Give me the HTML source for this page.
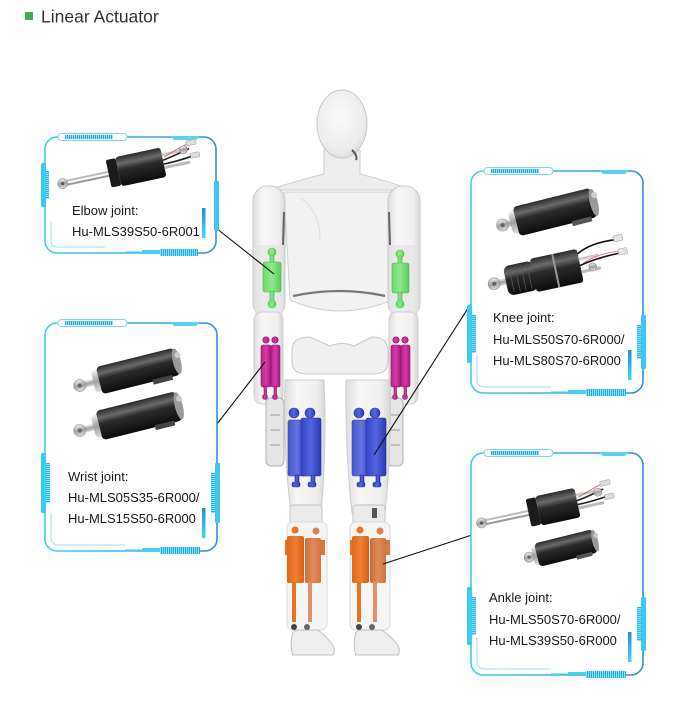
<!DOCTYPE html>
<html><head><meta charset="utf-8">
<style>
html,body{margin:0;padding:0;background:#fff;}
body{width:674px;height:706px;overflow:hidden;position:relative;font-family:"Liberation Sans",sans-serif;}
svg{position:absolute;left:0;top:0;}
</style></head><body>
<svg width="674" height="706" viewBox="0 0 674 706" xmlns="http://www.w3.org/2000/svg">
<defs>
 <linearGradient id="fr" x1="0" y1="0" x2="1" y2="0"><stop offset="0" stop-color="#3fd0ee"/><stop offset="1" stop-color="#2d8fe2"/></linearGradient>
 <linearGradient id="cyv" x1="0" y1="0" x2="0" y2="1"><stop offset="0" stop-color="#1e8fe0"/><stop offset="1" stop-color="#49d6f2"/></linearGradient>
 <pattern id="hatch" width="2" height="8" patternUnits="userSpaceOnUse"><rect width="2" height="8" fill="#8fe4f8"/><rect width="1" height="8" fill="#1ea8e8"/></pattern>
 <pattern id="hatchh" width="8" height="2" patternUnits="userSpaceOnUse"><rect width="8" height="2" fill="#8fe4f8"/><rect width="8" height="1" fill="#26b4ea"/></pattern>
 <linearGradient id="blk" x1="0" y1="0" x2="0" y2="1"><stop offset="0" stop-color="#2a2a2a"/><stop offset=".25" stop-color="#6a6a6a"/><stop offset=".45" stop-color="#2b2b2b"/><stop offset="1" stop-color="#0c0c0c"/></linearGradient>
 <linearGradient id="slv" x1="0" y1="0" x2="0" y2="1"><stop offset="0" stop-color="#f4f4f4"/><stop offset=".5" stop-color="#a0a0a0"/><stop offset="1" stop-color="#e0e0e0"/></linearGradient>
 <radialGradient id="skin" cx=".45" cy=".4" r=".7"><stop offset="0" stop-color="#fafafa"/><stop offset=".7" stop-color="#ececec"/><stop offset="1" stop-color="#d2d2d2"/></radialGradient>
 <linearGradient id="limb" x1="0" y1="0" x2="1" y2="0"><stop offset="0" stop-color="#dedede"/><stop offset=".3" stop-color="#f7f7f7"/><stop offset=".8" stop-color="#efefef"/><stop offset="1" stop-color="#d6d6d6"/></linearGradient>
 <linearGradient id="grn" x1="0" y1="0" x2="1" y2="0"><stop offset="0" stop-color="#6fd86f"/><stop offset=".5" stop-color="#8ee88e"/><stop offset="1" stop-color="#5cc85c"/></linearGradient>
 <linearGradient id="mag" x1="0" y1="0" x2="1" y2="0"><stop offset="0" stop-color="#b8248a"/><stop offset=".5" stop-color="#d83aa8"/><stop offset="1" stop-color="#a01c7a"/></linearGradient>
 <linearGradient id="blu" x1="0" y1="0" x2="1" y2="0"><stop offset="0" stop-color="#3446c8"/><stop offset=".5" stop-color="#5566e0"/><stop offset="1" stop-color="#2a38b0"/></linearGradient>
 <linearGradient id="org" x1="0" y1="0" x2="1" y2="0"><stop offset="0" stop-color="#e0661a"/><stop offset=".5" stop-color="#f08030"/><stop offset="1" stop-color="#d85f15"/></linearGradient>
 <linearGradient id="org2" x1="0" y1="0" x2="1" y2="0"><stop offset="0" stop-color="#c8703e"/><stop offset=".5" stop-color="#e08a5a"/><stop offset="1" stop-color="#d0743e"/></linearGradient>
</defs>

<!-- Header -->
<rect x="25" y="12" width="8" height="8" fill="#3cb44a"/>
<text x="41" y="22.5" font-size="17.5" fill="#333" font-family="Liberation Sans, sans-serif">Linear Actuator</text>

<!-- ================= ROBOT ================= -->
<g stroke-linejoin="round">
 <path d="M324,150 L324,174 Q300,180 268,190 L412,190 Q384,180 360,174 L360,150 Z" fill="#ededed" stroke="#cdcdcd"/>
 <ellipse cx="342" cy="124" rx="25" ry="34" fill="url(#skin)" stroke="#c8c8c8"/>
 <path d="M352,150 Q358,156 356,160" stroke="#555" stroke-width="2" fill="none"/>
 <path d="M284,192 L397,192 L392,300 Q340,322 290,300 Z" fill="#f2f2f2" stroke="#d0d0d0"/>
 <path d="M293,296 Q340,286 385,296" stroke="#777" stroke-width="2.2" fill="none"/>
 <path d="M300,198 Q320,210 320,240" stroke="#dddddd" fill="none"/>
 <rect x="253" y="186" width="32" height="132" rx="15" fill="url(#limb)" stroke="#c8c8c8"/>
 <rect x="388" y="186" width="32" height="132" rx="15" fill="url(#limb)" stroke="#c8c8c8"/>
 <rect x="255" y="245" width="28" height="72" fill="#e4e4e4" opacity=".7"/>
 <rect x="390" y="245" width="28" height="72" fill="#e4e4e4" opacity=".7"/>
 <path d="M284,212 L283,245" stroke="#666" stroke-width="2"/>
 <path d="M389,212 L390,245" stroke="#666" stroke-width="2"/>
 <rect x="254" y="312" width="29" height="92" rx="8" fill="url(#limb)" stroke="#d0d0d0"/>
 <rect x="389" y="312" width="29" height="92" rx="8" fill="url(#limb)" stroke="#d0d0d0"/>
 <rect x="266" y="398" width="18" height="68" rx="5" fill="#e6e6e6" stroke="#b0b0b0"/>
 <rect x="387" y="398" width="16" height="68" rx="5" fill="#e6e6e6" stroke="#b0b0b0"/>
 <path d="M270,415 h10 M270,430 h10 M270,445 h10" stroke="#999"/>
 <path d="M391,415 h9 M391,430 h9 M391,445 h9" stroke="#999"/>
 <path d="M292,350 Q292,337 310,337 L330,346 Q342,341 354,346 L372,337 Q388,337 388,352 L388,362 Q388,374 372,374 L308,374 Q292,374 292,362 Z" fill="#f0f0f0" stroke="#c8c8c8"/>
 <path d="M285,380 L324,380 Q327,450 321,513 L291,513 Q283,450 285,380 Z" fill="url(#limb)" stroke="#cccccc"/>
 <path d="M346,380 L390,380 Q392,450 385,513 L352,513 Q345,450 346,380 Z" fill="url(#limb)" stroke="#cccccc"/>
 <rect x="290" y="505" width="32" height="22" rx="3" fill="#ebebeb" stroke="#c2c2c2"/>
 <rect x="353" y="505" width="32" height="22" rx="3" fill="#ebebeb" stroke="#c2c2c2"/>
 <rect x="372" y="508" width="5" height="10" fill="#555"/>
 <rect x="287" y="522" width="40" height="108" rx="6" fill="#f5f5f5" stroke="#dadada"/>
 <rect x="350" y="522" width="40" height="108" rx="6" fill="#f5f5f5" stroke="#dadada"/>
 <path d="M292,636 Q292,630 300,630 L318,630 Q326,636 332,644 Q336,650 333,655 L293,655 Q290,648 292,636 Z" fill="#eeeeee" stroke="#c0c0c0"/>
 <path d="M355,636 Q355,630 363,630 L382,630 Q391,636 397,644 Q401,650 398,655 L356,655 Q353,648 355,636 Z" fill="#eeeeee" stroke="#c0c0c0"/>
 <circle cx="294" cy="627" r="3" fill="#444"/><circle cx="307" cy="627" r="3" fill="#666"/>
 <circle cx="359" cy="627" r="3" fill="#444"/><circle cx="372" cy="627" r="3" fill="#666"/>
</g>

<!-- Green actuators -->
<g fill="url(#grn)" stroke="#4fb54f" stroke-width=".6">
 <circle cx="272" cy="252" r="4"/><rect x="270" y="255" width="4" height="8"/>
 <rect x="263" y="262" width="18" height="30" rx="2"/>
 <rect x="270" y="291" width="4" height="10"/><circle cx="272" cy="304" r="4"/>
 <circle cx="400" cy="254" r="4"/><rect x="398" y="257" width="4" height="7"/>
 <rect x="392" y="263" width="17" height="30" rx="2"/>
 <rect x="398" y="292" width="4" height="9"/><circle cx="400" cy="304" r="4"/>
</g>
<!-- Magenta actuators -->
<g fill="url(#mag)" stroke="#8a1466" stroke-width=".6">
 <circle cx="266" cy="340" r="3.2"/><circle cx="275" cy="340" r="3.2"/>
 <rect x="261" y="345" width="10" height="42" rx="2"/><rect x="271" y="345" width="9" height="42" rx="2"/>
 <rect x="264" y="386" width="2.5" height="10"/><rect x="274" y="386" width="2.5" height="10"/>
 <circle cx="265" cy="397" r="2.5"/><circle cx="275" cy="397" r="2.5"/>
 <circle cx="396" cy="340" r="3.2"/><circle cx="405" cy="340" r="3.2"/>
 <rect x="391" y="345" width="10" height="42" rx="2"/><rect x="401" y="345" width="9" height="42" rx="2"/>
 <rect x="394" y="386" width="2.5" height="10"/><rect x="404" y="386" width="2.5" height="10"/>
 <circle cx="395" cy="397" r="2.5"/><circle cx="405" cy="397" r="2.5"/>
</g>
<!-- Blue actuators -->
<g fill="url(#blu)" stroke="#22309a" stroke-width=".6">
 <circle cx="294" cy="413" r="5"/><circle cx="310" cy="413" r="5"/>
 <rect x="288" y="420" width="18" height="56" rx="2" opacity=".9"/>
 <rect x="301" y="418" width="20" height="58" rx="2"/>
 <rect x="295" y="475" width="4" height="8"/><rect x="311" y="475" width="4" height="8"/>
 <rect x="292" y="482" width="8" height="5" rx="2"/><rect x="308" y="482" width="8" height="5" rx="2"/>
 <circle cx="359" cy="413" r="5"/><circle cx="375" cy="413" r="5"/>
 <rect x="352" y="420" width="18" height="56" rx="2" opacity=".9"/>
 <rect x="366" y="418" width="20" height="58" rx="2"/>
 <rect x="360" y="475" width="4" height="8"/><rect x="376" y="475" width="4" height="8"/>
 <rect x="357" y="482" width="8" height="5" rx="2"/><rect x="373" y="482" width="8" height="5" rx="2"/>
</g>
<!-- Orange actuators -->
<g>
 <circle cx="295" cy="530" r="3.5" fill="#e8741f"/><circle cx="316" cy="531" r="3.5" fill="#d98050"/>
 <rect x="285" y="540" width="5" height="15" fill="#e8741f"/><rect x="319" y="540" width="6" height="15" fill="#d67a45"/>
 <rect x="287" y="536" width="17" height="47" rx="2" fill="url(#org)"/>
 <rect x="305" y="538" width="16" height="45" rx="2" fill="url(#org2)"/>
 <rect x="292" y="582" width="4" height="40" fill="#e8741f"/><rect x="308" y="582" width="4" height="40" fill="#e0916a"/>
 <circle cx="360" cy="530" r="3.5" fill="#e8741f"/><circle cx="380" cy="531" r="3.5" fill="#d98050"/>
 <rect x="350" y="540" width="5" height="15" fill="#e8741f"/><rect x="384" y="540" width="6" height="15" fill="#d67a45"/>
 <rect x="352" y="536" width="17" height="47" rx="2" fill="url(#org)"/>
 <rect x="370" y="538" width="16" height="45" rx="2" fill="url(#org2)"/>
 <rect x="357" y="582" width="4" height="40" fill="#e8741f"/><rect x="373" y="582" width="4" height="40" fill="#e0916a"/>
</g>

<!-- Connector lines -->
<g stroke="#111" stroke-width="1.1">
 <line x1="216" y1="228" x2="274" y2="274"/>
 <line x1="217" y1="424" x2="265" y2="362"/>
 <line x1="472" y1="302" x2="374" y2="455"/>
 <line x1="472" y1="535" x2="383" y2="564"/>
</g>

<!-- ================= BOXES ================= -->
<g transform="translate(45,137)">
 <rect x="0" y="0" width="171" height="116" rx="12" fill="#fff" stroke="url(#fr)" stroke-width="1.6"/>
 <path d="M6,84 V104 Q6,110 12,110 H60" stroke="#9fdcf5" fill="none"/>
 <rect x="13" y="-3.5" width="69" height="7" rx="3.5" fill="#fff" stroke="#7fd3f0"/>
 <rect x="20" y="-2" width="48" height="4" fill="url(#hatch)"/>
 <path d="M125,-1 h30 l-4,4 h-22 z" fill="#5cd2f2"/>
 <rect x="-4" y="26" width="5" height="44" rx="1" fill="#3ccbf0"/>
 <rect x="1" y="34" width="3" height="28" fill="url(#hatchh)"/>
 <rect x="169" y="44" width="5" height="50" rx="1" fill="#3cc6f0"/>
 <rect x="80" y="114.5" width="16" height="2" fill="#46c6ef"/>
 <rect x="97" y="113" width="18" height="4" fill="#4ccdf2"/>
 <rect x="115" y="112" width="38" height="7" fill="url(#hatch)"/>
 <rect x="157" y="71" width="3.5" height="30" fill="url(#cyv)"/>
</g>
<text x="72" y="215" font-size="13" fill="#1a1a1a">Elbow joint:</text>
<text x="72" y="236" font-size="13" fill="#1a1a1a">Hu-MLS39S50-6R001</text>

<g transform="translate(45,323)">
 <rect x="0" y="0" width="172" height="228" rx="12" fill="#fff" stroke="url(#fr)" stroke-width="1.6"/>
 <path d="M6,190 V214 Q6,222 14,222 H80" stroke="#9fdcf5" fill="none"/>
 <rect x="13" y="-3.5" width="69" height="7" rx="3.5" fill="#fff" stroke="#7fd3f0"/>
 <rect x="20" y="-2" width="48" height="4" fill="url(#hatch)"/>
 <path d="M125,-1 h30 l-4,4 h-22 z" fill="#5cd2f2"/>
 <rect x="-4" y="130" width="5" height="60" rx="1" fill="#3ccbf0"/>
 <rect x="1" y="140" width="4" height="40" fill="url(#hatchh)"/>
 <rect x="170" y="140" width="5" height="60" rx="1" fill="#3cc6f0"/>
 <rect x="166" y="150" width="4" height="40" fill="url(#hatchh)"/>
 <rect x="80" y="226.5" width="16" height="2" fill="#46c6ef"/>
 <rect x="97" y="225" width="18" height="4" fill="#4ccdf2"/>
 <rect x="115" y="224" width="40" height="7" fill="url(#hatch)"/>
 <rect x="157" y="185" width="3.5" height="30" fill="url(#cyv)"/>
</g>
<text x="68" y="481" font-size="13" fill="#1a1a1a">Wrist joint:</text>
<text x="68" y="502" font-size="13" fill="#1a1a1a">Hu-MLS05S35-6R000/</text>
<text x="68" y="523" font-size="13" fill="#1a1a1a">Hu-MLS15S50-6R000</text>

<g transform="translate(471,171)">
 <rect x="0" y="0" width="172" height="222" rx="12" fill="#fff" stroke="url(#fr)" stroke-width="1.6"/>
 <path d="M6,184 V208 Q6,216 14,216 H80" stroke="#9fdcf5" fill="none"/>
 <rect x="13" y="-3.5" width="69" height="7" rx="3.5" fill="#fff" stroke="#7fd3f0"/>
 <rect x="20" y="-2" width="48" height="4" fill="url(#hatch)"/>
 <path d="M128,-1 h30 l-4,4 h-22 z" fill="#5cd2f2"/>
 <rect x="-4" y="134" width="5" height="58" rx="1" fill="#3ccbf0"/>
 <rect x="1" y="144" width="4" height="38" fill="url(#hatchh)"/>
 <rect x="170" y="144" width="5" height="54" rx="1" fill="#3cc6f0"/>
 <rect x="166" y="154" width="4" height="34" fill="url(#hatchh)"/>
 <rect x="80" y="220.5" width="16" height="2" fill="#46c6ef"/>
 <rect x="97" y="219" width="18" height="4" fill="#4ccdf2"/>
 <rect x="115" y="218" width="40" height="7" fill="url(#hatch)"/>
 <rect x="157" y="179" width="3.5" height="30" fill="url(#cyv)"/>
</g>
<text x="493" y="322" font-size="13" fill="#1a1a1a">Knee joint:</text>
<text x="493" y="344" font-size="13" fill="#1a1a1a">Hu-MLS50S70-6R000/</text>
<text x="493" y="365" font-size="13" fill="#1a1a1a">Hu-MLS80S70-6R000</text>

<g transform="translate(471,453)">
 <rect x="0" y="0" width="172" height="222" rx="12" fill="#fff" stroke="url(#fr)" stroke-width="1.6"/>
 <path d="M6,184 V208 Q6,216 14,216 H80" stroke="#9fdcf5" fill="none"/>
 <rect x="13" y="-3.5" width="69" height="7" rx="3.5" fill="#fff" stroke="#7fd3f0"/>
 <rect x="20" y="-2" width="48" height="4" fill="url(#hatch)"/>
 <path d="M128,-1 h30 l-4,4 h-22 z" fill="#5cd2f2"/>
 <rect x="-4" y="134" width="5" height="58" rx="1" fill="#3ccbf0"/>
 <rect x="1" y="144" width="4" height="38" fill="url(#hatchh)"/>
 <rect x="170" y="144" width="5" height="54" rx="1" fill="#3cc6f0"/>
 <rect x="166" y="154" width="4" height="34" fill="url(#hatchh)"/>
 <rect x="80" y="220.5" width="16" height="2" fill="#46c6ef"/>
 <rect x="97" y="219" width="18" height="4" fill="#4ccdf2"/>
 <rect x="115" y="218" width="40" height="7" fill="url(#hatch)"/>
 <rect x="157" y="179" width="3.5" height="30" fill="url(#cyv)"/>
</g>
<text x="489" y="602" font-size="13" fill="#1a1a1a">Ankle joint:</text>
<text x="489" y="624" font-size="13" fill="#1a1a1a">Hu-MLS50S70-6R000/</text>
<text x="489" y="645" font-size="13" fill="#1a1a1a">Hu-MLS39S50-6R000</text>

<!-- ================= ACTUATOR PRODUCT DRAWINGS ================= -->
<g transform="translate(136,168) rotate(-12)">
 <rect x="-73" y="-3" width="48" height="2" fill="#bbb"/>
 <rect x="-73" y="1" width="48" height="2" fill="#999"/>
 <circle cx="-75" cy="0" r="5" fill="url(#slv)" stroke="#888" stroke-width=".6"/>
 <circle cx="-75" cy="0" r="1.6" fill="#555"/>
 <rect x="-28" y="-14" width="10" height="28" rx="2" fill="#1a1a1a"/>
 <rect x="-18" y="-15" width="46" height="30" rx="3" fill="url(#blk)"/>
 <rect x="28" y="-9" width="26" height="3" fill="#ccc"/>
 <rect x="28" y="4" width="26" height="3" fill="#bbb"/>
 <path d="M28,-2 Q40,-4 56,-8 M28,2 Q42,2 58,0" stroke="#222" stroke-width="1.6" fill="none"/>
 <path d="M30,-5 Q44,-10 58,-14" stroke="#c55" stroke-width=".8" fill="none"/>
 <circle cx="50" cy="-8" r="4" fill="url(#slv)" stroke="#888" stroke-width=".6"/>
 <rect x="54" y="-16" width="10" height="5" rx="1" fill="#ddd" stroke="#999" stroke-width=".5"/>
 <rect x="56" y="-3" width="9" height="5" rx="1" fill="#ddd" stroke="#999" stroke-width=".5"/>
</g>

<g transform="translate(138,371) rotate(-14)">
 <rect x="-58" y="-3.5" width="18" height="7" fill="url(#slv)"/>
 <rect x="-46" y="-11" width="8" height="22" rx="3" fill="url(#slv)"/>
 <rect x="-40" y="-14" width="80" height="28" rx="4" fill="url(#blk)"/>
 <ellipse cx="40" cy="0" rx="4" ry="13" fill="#9a9a9a"/>
 <circle cx="42" cy="-6" r="3" fill="#ccc"/>
 <rect x="12" y="12" width="20" height="5" fill="#444"/>
 <circle cx="-60" cy="0" r="6" fill="url(#slv)" stroke="#888" stroke-width=".6"/>
 <circle cx="-60" cy="0" r="2" fill="#666"/>
</g>
<g transform="translate(138,416) rotate(-14)">
 <rect x="-58" y="-3.5" width="18" height="7" fill="url(#slv)"/>
 <rect x="-46" y="-12" width="10" height="24" rx="5" fill="url(#slv)"/>
 <rect x="-40" y="-15" width="82" height="30" rx="4" fill="url(#blk)"/>
 <ellipse cx="42" cy="0" rx="4" ry="14" fill="#9a9a9a"/>
 <circle cx="44" cy="-7" r="3" fill="#ccc"/>
 <rect x="14" y="13" width="20" height="5" fill="#444"/>
 <circle cx="-60" cy="0" r="6" fill="url(#slv)" stroke="#888" stroke-width=".6"/>
 <circle cx="-60" cy="0" r="2" fill="#666"/>
</g>

<g transform="translate(555,212) rotate(-14)">
 <rect x="-52" y="-3.5" width="14" height="7" fill="url(#slv)"/>
 <rect x="-46" y="-12" width="10" height="24" rx="5" fill="url(#slv)"/>
 <rect x="-40" y="-15" width="80" height="30" rx="4" fill="url(#blk)"/>
 <ellipse cx="40" cy="0" rx="4" ry="14" fill="#9a9a9a"/>
 <circle cx="42" cy="-7" r="3" fill="#ccc"/>
 <rect x="14" y="13" width="20" height="5" fill="#555"/>
 <circle cx="-54" cy="0" r="6" fill="url(#slv)" stroke="#888" stroke-width=".6"/>
 <circle cx="-54" cy="0" r="2" fill="#666"/>
</g>
<g transform="translate(545,273) rotate(-12)">
 <rect x="-50" y="-3.5" width="14" height="7" fill="url(#slv)"/>
 <rect x="-40" y="-15" width="30" height="30" rx="6" fill="url(#blk)"/>
 <rect x="-12" y="-17" width="48" height="34" rx="3" fill="url(#blk)"/>
 <path d="M-34,-12 v24 M-28,-13 v26 M-22,-13 v26 M-16,-13 v26" stroke="#555" stroke-width=".8"/>
 <rect x="10" y="-17" width="2" height="34" fill="#999"/>
 <rect x="36" y="-8" width="20" height="3" fill="#ccc"/>
 <rect x="36" y="5" width="20" height="3" fill="#bbb"/>
 <path d="M36,-12 Q50,-20 76,-18 M36,0 Q52,-4 78,-4" stroke="#111" stroke-width="1.6" fill="none"/>
 <path d="M40,-2 Q56,-8 78,-6" stroke="#d66" stroke-width=".8" fill="none"/>
 <circle cx="48" cy="4" r="4" fill="url(#slv)" stroke="#888" stroke-width=".6"/>
 <rect x="74" y="-22" width="9" height="6" rx="1" fill="#e6e6e6" stroke="#999" stroke-width=".5"/>
 <rect x="76" y="-8" width="9" height="6" rx="1" fill="#e6e6e6" stroke="#999" stroke-width=".5"/>
 <circle cx="-52" cy="0" r="6" fill="url(#slv)" stroke="#888" stroke-width=".6"/>
 <circle cx="-52" cy="0" r="2" fill="#666"/>
</g>

<g transform="translate(552,508) rotate(-12)">
 <rect x="-70" y="-3" width="48" height="2" fill="#bbb"/>
 <rect x="-70" y="1" width="48" height="2" fill="#999"/>
 <circle cx="-72" cy="0" r="5" fill="url(#slv)" stroke="#888" stroke-width=".6"/>
 <circle cx="-72" cy="0" r="1.6" fill="#555"/>
 <rect x="-24" y="-14" width="10" height="28" rx="2" fill="#1a1a1a"/>
 <rect x="-14" y="-15" width="40" height="30" rx="3" fill="url(#blk)"/>
 <rect x="26" y="-9" width="26" height="3" fill="#ccc"/>
 <rect x="26" y="4" width="26" height="3" fill="#bbb"/>
 <path d="M26,-2 Q40,-4 54,-8 M26,2 Q40,2 56,0" stroke="#222" stroke-width="1.6" fill="none"/>
 <path d="M28,-5 Q42,-10 56,-14" stroke="#c55" stroke-width=".8" fill="none"/>
 <circle cx="48" cy="-6" r="4" fill="url(#slv)" stroke="#888" stroke-width=".6"/>
 <rect x="52" y="-16" width="10" height="5" rx="1" fill="#ddd" stroke="#999" stroke-width=".5"/>
 <rect x="54" y="-2" width="9" height="5" rx="1" fill="#ddd" stroke="#999" stroke-width=".5"/>
</g>
<g transform="translate(566,548) rotate(-14)">
 <rect x="-40" y="-3" width="12" height="6" fill="url(#slv)"/>
 <rect x="-34" y="-10" width="8" height="20" rx="4" fill="url(#slv)"/>
 <rect x="-30" y="-12" width="60" height="24" rx="4" fill="url(#blk)"/>
 <ellipse cx="30" cy="0" rx="3" ry="11" fill="#9a9a9a"/>
 <circle cx="32" cy="-5" r="2.5" fill="#ccc"/>
 <rect x="8" y="10" width="16" height="4" fill="#555"/>
 <circle cx="-38" cy="0" r="5" fill="url(#slv)" stroke="#888" stroke-width=".6"/>
 <circle cx="-38" cy="0" r="1.6" fill="#666"/>
</g>
</svg>
</body></html>
